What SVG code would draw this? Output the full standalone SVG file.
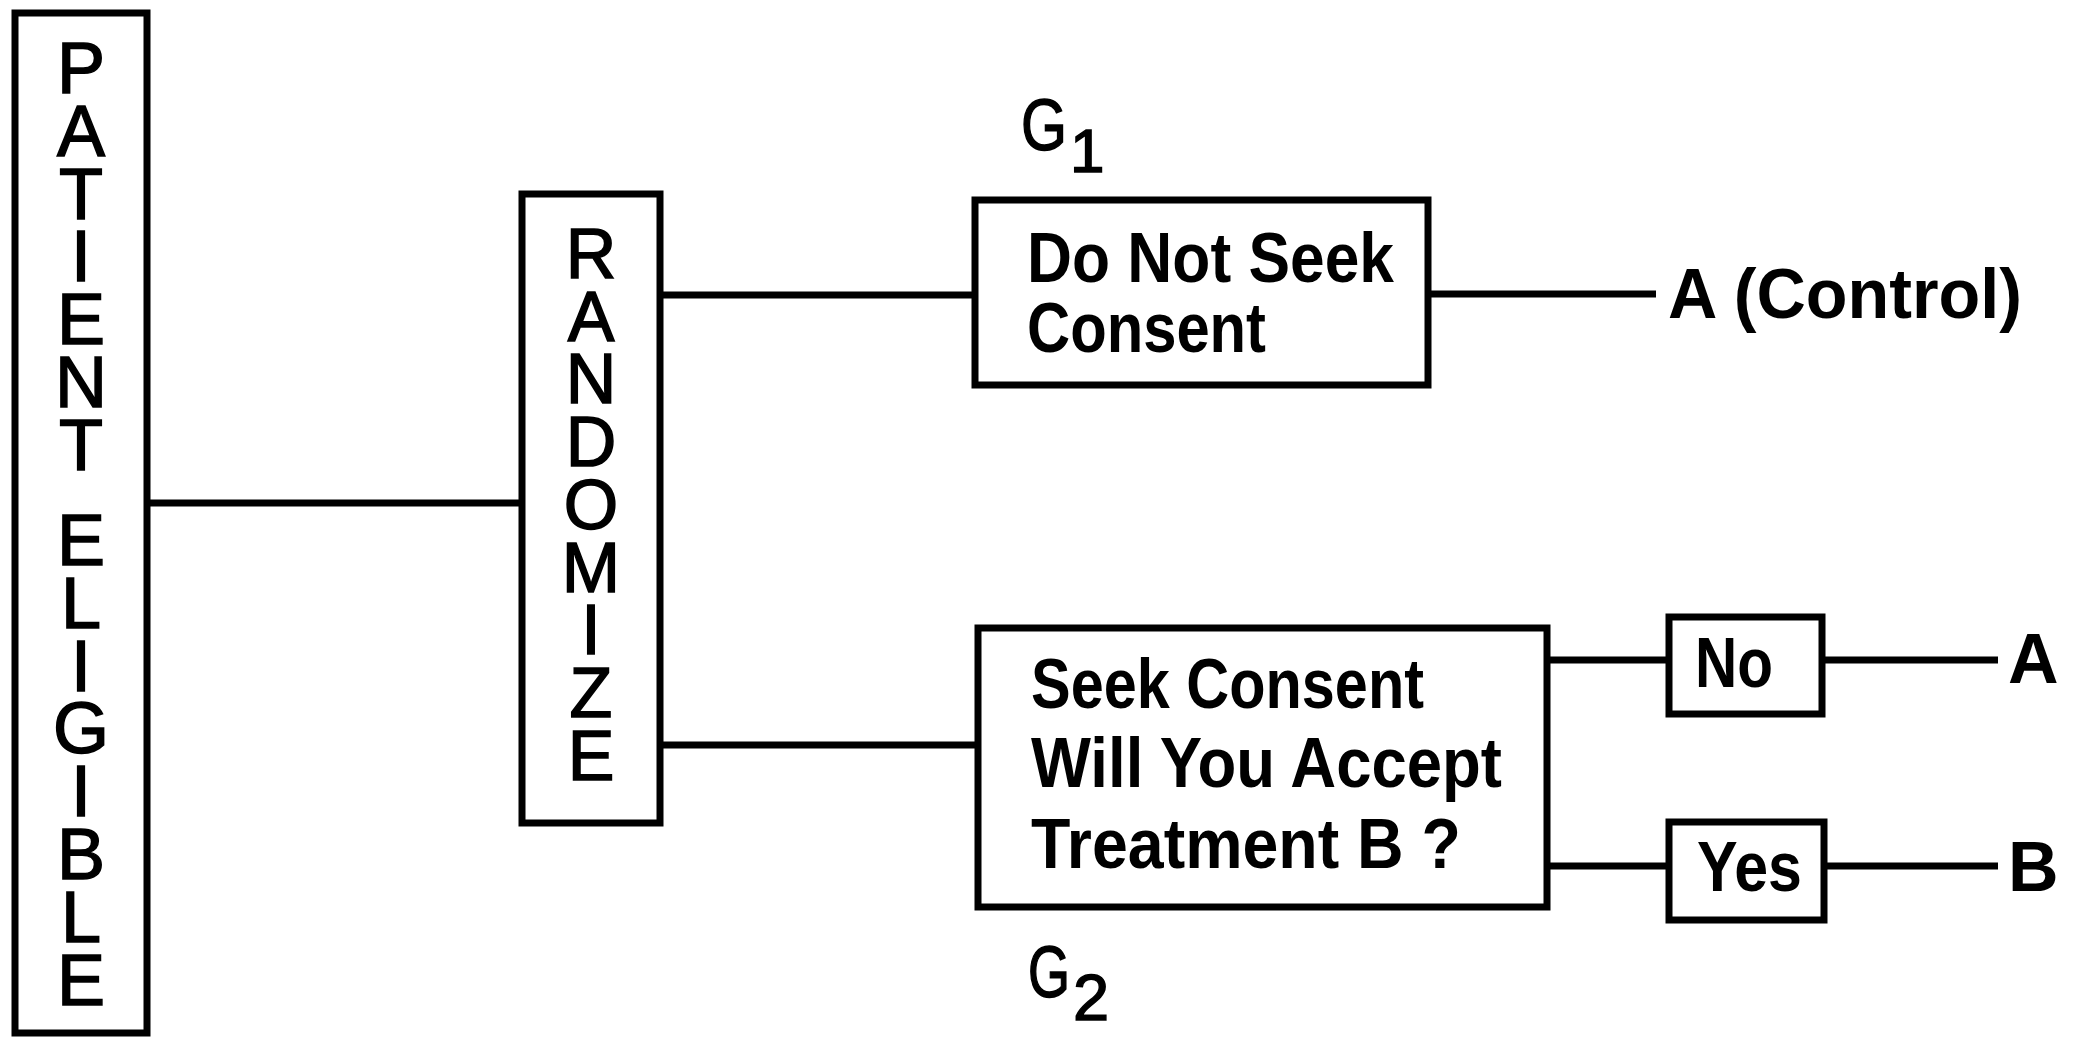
<svg xmlns="http://www.w3.org/2000/svg" width="2073" height="1039" viewBox="0 0 2073 1039">
<style>
.box{fill:#fff;stroke:#000;stroke-width:7}
.ln{stroke:#000;stroke-width:7;fill:none}
.v{font-family:"Liberation Sans",Arial,sans-serif;font-size:72px;fill:#000;stroke:#000;stroke-width:1.5;text-anchor:middle}
.r{font-size:70px}
.t{font-family:"Liberation Sans",Arial,sans-serif;font-size:70px;font-weight:bold;fill:#000}
.g{font-family:"Liberation Sans",Arial,sans-serif;font-size:72px;fill:#000;stroke:#000;stroke-width:1.5}
</style>
<rect width="2073" height="1039" fill="#fff"/>
<g id="connectors">
<line class="ln" x1="147" y1="503" x2="522" y2="503"/>
<line class="ln" x1="660" y1="295" x2="975" y2="295"/>
<line class="ln" x1="660" y1="745" x2="978" y2="745"/>
<line class="ln" x1="1428" y1="294" x2="1656" y2="294"/>
<line class="ln" x1="1547" y1="660" x2="1669" y2="660"/>
<line class="ln" x1="1822" y1="660" x2="1998" y2="660"/>
<line class="ln" x1="1547" y1="866" x2="1669" y2="866"/>
<line class="ln" x1="1824" y1="866" x2="1998" y2="866"/>
</g>
<g id="patient-eligible">
<rect class="box" x="15" y="13" width="132" height="1020"/>
<text class="v" x="81" y="93">P</text>
<text class="v" x="81" y="156">A</text>
<text class="v" x="81" y="219">T</text>
<text class="v" x="81" y="281">I</text>
<text class="v" x="81" y="344">E</text>
<text class="v" x="81" y="407">N</text>
<text class="v" x="81" y="470">T</text>
<text class="v" x="81" y="565">E</text>
<text class="v" x="81" y="628">L</text>
<text class="v" x="81" y="691">I</text>
<text class="v" x="81" y="753">G</text>
<text class="v" x="81" y="816">I</text>
<text class="v" x="81" y="879">B</text>
<text class="v" x="81" y="942">L</text>
<text class="v" x="81" y="1005">E</text>
</g>
<g id="randomize">
<rect class="box" x="522" y="194" width="138" height="629"/>
<text class="v r" x="591" y="278">R</text>
<text class="v r" x="591" y="341">A</text>
<text class="v r" x="591" y="403">N</text>
<text class="v r" x="591" y="466">D</text>
<text class="v r" x="591" y="529">O</text>
<text class="v r" x="591" y="592">M</text>
<text class="v r" x="591" y="654">I</text>
<text class="v r" x="591" y="717">Z</text>
<text class="v r" x="591" y="780">E</text>
</g>
<g id="g1-label">
<text class="g" x="1021" y="150" textLength="46" lengthAdjust="spacingAndGlyphs">G</text>
<text class="g" x="1070" y="172" style="font-size:62px">1</text>
</g>
<g id="do-not-seek">
<rect class="box" x="975" y="200" width="453" height="185"/>
<text class="t" x="1027" y="282" textLength="367" lengthAdjust="spacingAndGlyphs">Do Not Seek</text>
<text class="t" x="1027" y="352" textLength="239" lengthAdjust="spacingAndGlyphs">Consent</text>
</g>
<g id="a-control">
<text class="t" x="1668" y="318" textLength="354" lengthAdjust="spacingAndGlyphs">A (Control)</text>
</g>
<g id="seek-consent">
<rect class="box" x="978" y="628" width="569" height="279"/>
<text class="t" x="1031" y="708" textLength="393" lengthAdjust="spacingAndGlyphs">Seek Consent</text>
<text class="t" x="1031" y="787" textLength="471" lengthAdjust="spacingAndGlyphs">Will You Accept</text>
<text class="t" x="1031" y="868" textLength="430" lengthAdjust="spacingAndGlyphs">Treatment B ?</text>
</g>
<g id="g2-label">
<text class="g" x="1028" y="997" textLength="42" lengthAdjust="spacingAndGlyphs">G</text>
<text class="g" x="1073" y="1020" style="font-size:65px">2</text>
</g>
<g id="no">
<rect class="box" x="1669" y="617" width="153" height="97"/>
<text class="t" x="1695" y="687" textLength="78" lengthAdjust="spacingAndGlyphs">No</text>
</g>
<g id="yes">
<rect class="box" x="1669" y="822" width="155" height="98"/>
<text class="t" x="1697" y="891" textLength="105" lengthAdjust="spacingAndGlyphs">Yes</text>
</g>
<g id="out-a">
<text class="t" x="2008" y="683">A</text>
</g>
<g id="out-b">
<text class="t" x="2008" y="891">B</text>
</g>
</svg>
